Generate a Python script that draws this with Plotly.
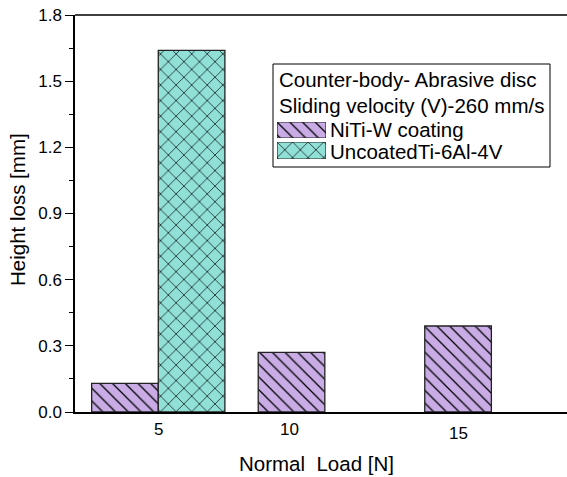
import plotly.graph_objects as go

# ---- data ----
loads = ["5", "10", "15"]
group_pos = [0, 1, 2]
niti_w = [0.13, 0.27, 0.39]
uncoated = [1.64, None, None]
tick_label_pos = [0.0, 0.79, 1.8]
tick_label_shift = [0, 0, -4]
series_names = ["NiTi-W coating", "UncoatedTi-6Al-4V"]
legend_title_lines = ["Counter-body- Abrasive disc", "Sliding velocity (V)-260 mm/s"]

PURPLE = "#C9ACE6"
TEAL = "#90E0D8"
FONT = "Liberation Sans, Arial, sans-serif"

W, H = 567, 477
ML, MR, MT, MB = 75, 0, 15, 477 - 412
PW, PH = W - ML - MR, H - MT - MB


def px(xp):
    return (xp - ML) / PW


def py(yp):
    return (H - MB - yp) / PH


fig = go.Figure()

pat_purple = dict(shape="\\", size=9, solidity=0.14, fgcolor="black", bgcolor=PURPLE,
                  fgopacity=1, fillmode="overlay")
pat_teal = dict(shape="x", size=11, solidity=0.12, fgcolor="black", bgcolor=TEAL,
                fgopacity=1, fillmode="overlay")

fig.add_trace(go.Bar(x=group_pos, y=niti_w, name=series_names[0],
                     marker=dict(color=PURPLE, line=dict(color="#222", width=1.3),
                                 pattern=pat_purple),
                     showlegend=False))
fig.add_trace(go.Bar(x=group_pos, y=uncoated, name=series_names[1],
                     marker=dict(color=TEAL, line=dict(color="#222", width=1.3),
                                 pattern=pat_teal),
                     showlegend=False))

# legend swatches drawn as tiny bars on their own axes
sw_x = (277, 326)
sw_rows = [(122, 138), (142, 159)]
for i, (pat, col) in enumerate([(pat_purple, PURPLE), (pat_teal, TEAL)]):
    k = i + 2
    fig.add_trace(go.Bar(x=[0], y=[1], width=[1], xaxis=f"x{k}", yaxis=f"y{k}",
                         marker=dict(color=col, line=dict(color="#222", width=1.2), pattern=pat),
                         showlegend=False, hoverinfo="skip"))
    y0, y1 = sw_rows[i]
    fig.layout[f"xaxis{k}"] = dict(domain=[px(sw_x[0]), px(sw_x[1])], range=[-0.5, 0.5],
                                   visible=False, anchor=f"y{k}", fixedrange=True)
    fig.layout[f"yaxis{k}"] = dict(domain=[py(y1), py(y0)], range=[0, 1],
                                   visible=False, anchor=f"x{k}", fixedrange=True)

fig.update_layout(
    width=W, height=H,
    margin=dict(l=ML, r=MR, t=MT, b=MB),
    paper_bgcolor="white", plot_bgcolor="white",
    barmode="group", bargap=0.2, bargroupgap=0,
    font=dict(family=FONT, color="black", size=17),
    showlegend=False,
    xaxis=dict(range=[-0.5, 2.454], showgrid=False, zeroline=False,
               showline=True, linecolor="black", linewidth=1.5,
               showticklabels=False, ticks=""),
    yaxis=dict(range=[0, 1.8], showgrid=False, zeroline=False,
               showline=True, linecolor="black", linewidth=1.5,
               ticks="outside", ticklen=8, tickwidth=1.3, tickcolor="black",
               dtick=0.3, tick0=0, tickformat=".1f", ticklabeloverflow="allow",
               tickfont=dict(size=17),
               minor=dict(ticks="outside", ticklen=4, tickwidth=1.3, tickcolor="black", dtick=0.15)),
)

annotations = []
for lab, xpos, sh in zip(loads, tick_label_pos, tick_label_shift):
    annotations.append(dict(text=lab, x=xpos, xref="x", y=py(429), yref="paper",
                            showarrow=False, xanchor="center", yanchor="middle",
                            yshift=sh, font=dict(size=17)))
annotations.append(dict(text="Normal  Load [N]", x=px(316), y=py(463), xref="paper", yref="paper",
                        showarrow=False, xanchor="center", yanchor="middle", font=dict(size=20.5)))
annotations.append(dict(text="Height loss [mm]", x=px(18), y=py(210), xref="paper", yref="paper",
                        showarrow=False, xanchor="center", yanchor="middle", textangle=-90,
                        font=dict(size=20.5)))
# legend texts
for line, yc in zip(legend_title_lines, [79, 105]):
    annotations.append(dict(text=line, x=px(277), y=py(yc), xref="paper", yref="paper",
                            showarrow=False, xanchor="left", yanchor="middle", font=dict(size=20.5)))
for name, yc in zip(series_names, [129.5, 151.5]):
    annotations.append(dict(text=name, x=px(328), y=py(yc), xref="paper", yref="paper",
                            showarrow=False, xanchor="left", yanchor="middle", font=dict(size=20.5)))
fig.update_layout(annotations=annotations)

fig.add_shape(type="rect", xref="paper", yref="paper",
              x0=px(273), x1=px(550), y0=py(167), y1=py(64),
              line=dict(color="black", width=1), fillcolor="white", layer="below")
# top frame line of the plot area
fig.add_shape(type="line", xref="paper", yref="paper", x0=0, x1=1, y0=1, y1=1,
              line=dict(color="black", width=1.5), layer="above")

fig.write_html(
    "out.html",
    config={"displayModeBar": False},
    post_script="document.body.style.margin='0';document.body.style.overflow='hidden';",
)
